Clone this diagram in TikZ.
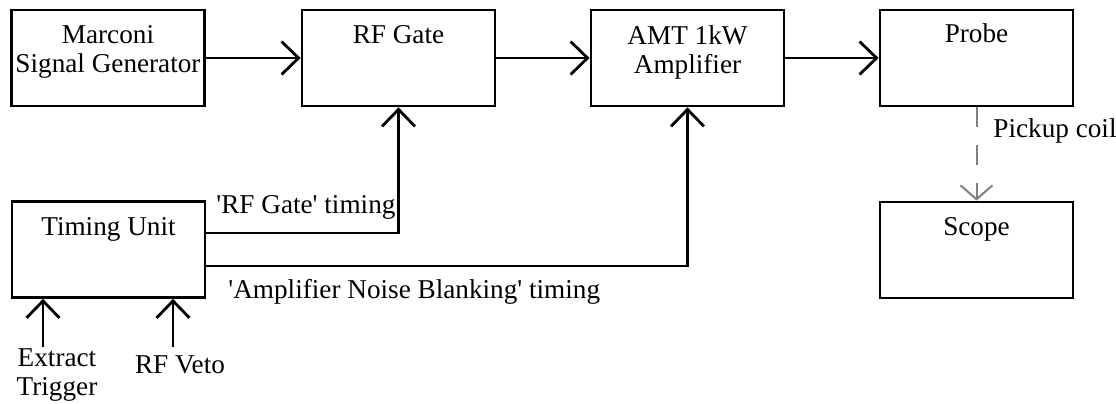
\documentclass[tikz,border=0pt]{standalone}
\usepackage{fontspec}
\setmainfont{Liberation Serif}
\usetikzlibrary{arrows.meta}
\begin{document}
\begin{tikzpicture}[x=0.5pt,y=-0.5pt,
  box/.style={draw, line width=1.4pt, minimum width=96.5pt, minimum height=48pt, inner sep=0pt},
  txt/.style={font=\fontsize{13.6pt}{14.5pt}\selectfont, inner sep=0pt, align=center},
  arr/.style={line width=1.4pt, -{Straight Barb[length=8.5pt,width=16.5pt,line width=1.4pt]}},
  dasharr/.style={line width=1pt, gray, dash pattern=on 10pt off 9pt, -{Straight Barb[length=7pt,width=16pt,line width=1pt]}}]
\useasboundingbox (0,0) rectangle (1116,403);
% boxes
\node[box] (marconi) at (108,58) {};
\node[box] (rfgate) at (398.5,58) {};
\node[box] (amt) at (687.5,58) {};
\node[box] (probe) at (976.5,58) {};
\node[box] (scope) at (976.5,250) {};
\node[box] (timing) at (108.5,249.5) {};
% box texts (anchor base = baseline of last line)
\node[txt, anchor=base] (marconiT) at (108,72) {Marconi\\Signal Generator};
\node[txt, anchor=base] (rfgateT) at (398.5,43) {RF Gate};
\node[txt, anchor=base] (amtT) at (687.5,73) {AMT 1kW\\Amplifier};
\node[txt, anchor=base] (probeT) at (976.5,42) {Probe};
\node[txt, anchor=base] (scopeT) at (976.5,235) {Scope};
\node[txt, anchor=base] (timingT) at (108.5,235) {Timing Unit};
% main chain
\draw[arr] (marconi.east) -- (rfgate.west);
\draw[arr] (rfgate.east) -- (amt.west);
\draw[arr] (amt.east) -- (probe.west);
% timing
\draw[arr] ([yshift=8.25pt]timing.east) -| (rfgate.south);
\draw[arr] ([yshift=-8.25pt]timing.east) -| (amt.south);
\node[txt, anchor=base west] (rfgl) at (216,213) {\textquotesingle RF Gate\textquotesingle{} timing};
\node[txt, anchor=base west] (anbl) at (228,298) {\textquotesingle Amplifier Noise Blanking\textquotesingle{} timing};
% inputs
\coordinate (etin) at (43,347);
\coordinate (rvin) at (173,347);
\draw[arr] (etin) -- (etin |- timing.south);
\draw[arr] (rvin) -- (rvin |- timing.south);
\node[txt, anchor=base] (etT) at (57,395) {Extract\\Trigger};
\node[txt, anchor=base] (rvT) at (180,373) {RF Veto};
% pickup
\draw[dasharr] (probe.south) -- (scope.north);
\node[txt, anchor=base west] (pcT) at (993,137) {Pickup coil};
\end{tikzpicture}
\end{document}
